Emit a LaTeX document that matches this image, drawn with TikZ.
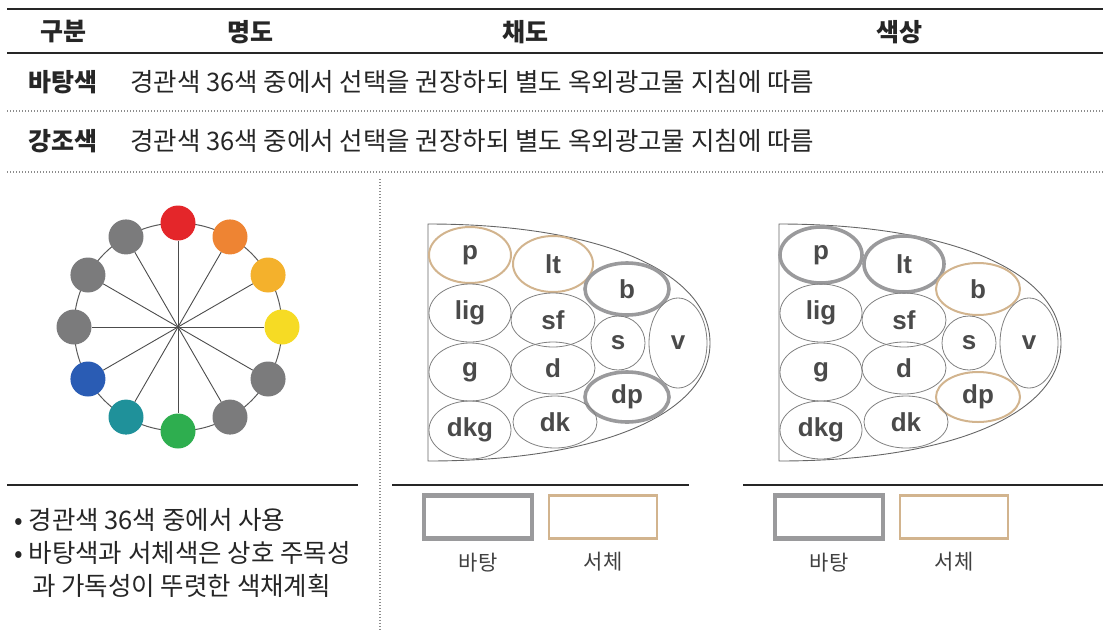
\documentclass[tikz,border=0pt]{standalone}
\usepackage{fontspec}
\newfontfamily\hangul{Noto Sans CJK KR}
\newfontfamily\tonefont{Liberation Sans}
\usetikzlibrary{shapes.geometric,positioning,calc}
\definecolor{ink}{HTML}{262626}
\definecolor{tonegray}{HTML}{4A4A4A}
\definecolor{ringgray}{HTML}{9A9A9C}
\definecolor{ringtan}{HTML}{D2B48E}
\definecolor{hred}{HTML}{E4262A}
\definecolor{horange}{HTML}{EE8433}
\definecolor{hamber}{HTML}{F4B12C}
\definecolor{hyellow}{HTML}{F6DB24}
\definecolor{hgreen}{HTML}{2EAE4F}
\definecolor{hteal}{HTML}{1F919A}
\definecolor{hblue}{HTML}{2A5CB4}
\definecolor{hgray}{HTML}{7B7B7C}
\tikzset{
  rule/.style={draw=ink, line width=2.4pt},
  dotrule/.style={draw=black!45, line width=1.3pt, dash pattern=on 1.3pt off 1.7pt},
  thinrule/.style={draw=ink, line width=1.1pt},
  head/.style={font=\hangul\bfseries\fontsize{25}{28}\selectfont, text=ink, inner sep=0pt},
  body/.style={font=\hangul\fontsize{25.5}{28}\selectfont, text=ink, anchor=west, inner sep=0pt},
  hue/.style={circle, minimum size=35pt, inner sep=0pt},
  tone/.style={ellipse, draw=black!50, line width=0.8pt, inner sep=0pt, font=\tonefont\bfseries\fontsize{26}{26}\selectfont, text=tonegray},
  grayring/.style={draw=ringgray, line width=3.6pt},
  tanring/.style={draw=ringtan, line width=2pt},
  swatch/.style={minimum width=108pt, minimum height=43pt, inner sep=0pt, fill=white},
  caption/.style={font=\hangul\fontsize{21}{24}\selectfont, text=black!75, inner sep=0pt}
}
\begin{document}
\begin{tikzpicture}[x=1pt, y=-1pt,
  outline/.style={draw=black!60, line width=0.9pt},
  ringL0/.style={}, ringL1/.style={tanring}, ringL2/.style={grayring},
  ringR0/.style={}, ringR1/.style={grayring}, ringR2/.style={tanring}
]
\useasboundingbox (0,0) rectangle (1103,630);
% table head
\draw[rule] (7,9) -- (1103,9);
\node[head] (hgubun) at (63,32) {구분};
\node[head] (hmyeong) at (250,32) {명도};
\node[head] (hchae) at (525,32) {채도};
\node[head] (hsaek) at (899,32) {색상};
\draw[rule] (7,53) -- (1103,53);
% rows
\node[head, anchor=west] (rbase) at (28,82) {바탕색};
\node[body] (tbase) at (130,82) {경관색 36색 중에서 선택을 권장하되 별도 옥외광고물 지침에 따름};
\draw[dotrule] (7,111) -- (1103,111);
\node[head, anchor=west] (raccent) at (28,141) {강조색};
\node[body] (taccent) at (130,141) {경관색 36색 중에서 선택을 권장하되 별도 옥외광고물 지침에 따름};
\draw[dotrule] (7,172) -- (1103,172);
\draw[dotrule] (380,179) -- (380,630);

% hue wheel
\coordinate (hub) at (178,327);
\draw[black!65, line width=1pt] (hub) circle (104);
\foreach \a/\c [count=\i] in {-90/hred, -60/horange, -30/hamber, 0/hyellow, 30/hgray, 60/hgray,
    90/hgreen, 120/hteal, 150/hblue, 180/hgray, 210/hgray, 240/hgray} {
  \node[hue, fill=\c] (dot\i) at ($(hub)+(\a:104)$) {};
  \draw[black!70, line width=0.9pt] (hub) -- (dot\i);
}
\draw[thinrule] (7,485) -- (358,485);
\node[body] (note1) at (14,520) {• 경관색 36색 중에서 사용};
\node[body] (note2) at (14,553) {• 바탕색과 서체색은 상호 주목성};
\node[body] (note3) at (32,586) {과 가독성이 뚜렷한 색채계획};

% tone charts
\draw[thinrule] (392,485) -- (689,485);
\draw[thinrule] (743,485) -- (1103,485);
\foreach \side/\shift in {L/0, R/351} {
  \begin{scope}[xshift=\shift pt]
    \draw[outline] (428,224) .. controls (600,224) and (710,272) .. (710,343)
      .. controls (710,414) and (600,461) .. (428,461) -- cycle;
    \foreach \n/\cx/\cy/\rx/\ry/\k in {p/470/255/41/28/1, lt/553/264/40/28/1, b/627/289/42/26/2,
        lig/470/313/41/29/0, sf/553/320/42/27/0, s/618/343/27/27/0, v/678/343/29/45/0,
        g/470/372/41/29/0, d/553/368/42/26/0, dp/627/397/42/25/2,
        dkg/470/430/41/29/0, dk/555/422/42/26/0}
      \node[tone, ring\side\k, minimum width={2*\rx}, minimum height={2*\ry}] (\side\n) at (\cx,\cy) {\n};
    \node[swatch, draw=ringgray, line width=4.5pt] (\side base) at (478,517) {};
    \node[swatch, draw=ringtan, line width=2.2pt] (\side font) at (603,517) {};
    \node[caption, below=12pt of \side base] (\side basecap) {바탕};
    \node[caption, below=12pt of \side font] (\side fontcap) {서체};
  \end{scope}
}
\end{tikzpicture}
\end{document}
